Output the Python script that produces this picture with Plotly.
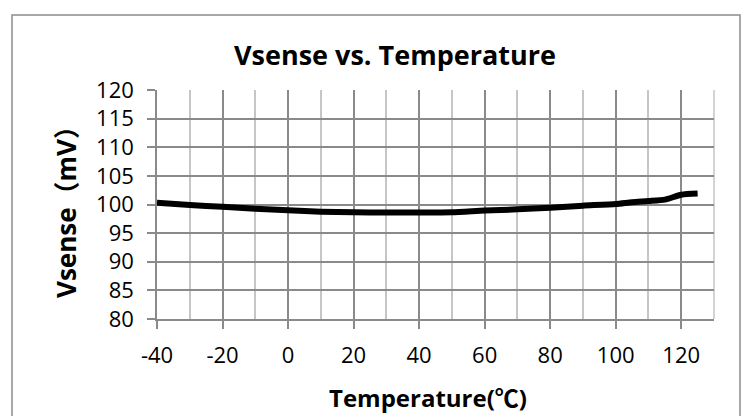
import plotly.graph_objects as go

temperature = [-40, -30, -20, -10, 0, 10, 20, 30, 40, 50, 60, 70, 80, 90, 100, 105, 110, 115, 120, 125]
vsense = [100.3, 99.9, 99.6, 99.25, 99.0, 98.75, 98.65, 98.6, 98.6, 98.65, 98.95, 99.15, 99.45, 99.8, 100.1, 100.4, 100.6, 100.85, 101.7, 101.9]

x_tick_vals = [-40, -20, 0, 20, 40, 60, 80, 100, 120]
x_tick_text = ["-40", "-20", "0", "20", "40", "60", "80", "100", "120"]
y_tick_vals = [80, 85, 90, 95, 100, 105, 110, 115, 120]
y_tick_text = ["80", "85", "90", "95", "100", "105", "110", "115", "120"]

title_text = "Vsense vs. Temperature"
x_title = "Temperature(℃)"
y_title = "Vsense（mV）"

FONT = "Open Sans, Noto Sans CJK SC, sans-serif"
OFF = 8  # default page body margin
W, H = 753, 416
# plot area in page pixels
PL, PR, PT, PB = 157, 714, 90, 319
L = PL - OFF
T = PT - OFF
R = W - (PR - OFF)
B = H - (PB - OFF)
pw, ph = PR - PL, PB - PT

def px(x):
    return (x - PL) / pw

def py(y):
    return (PB - y) / ph

fig = go.Figure()
fig.add_trace(go.Scatter(
    x=temperature, y=vsense, mode="lines",
    line=dict(color="black", width=6, shape="spline", smoothing=0.6),
    showlegend=False, hoverinfo="skip",
))

fig.update_layout(
    width=W, height=H,
    margin=dict(l=L, r=R, t=T, b=B, pad=0),
    paper_bgcolor="white", plot_bgcolor="white",
    font=dict(family=FONT, size=22, color="black"),
    xaxis=dict(
        range=[-40, 130], tickmode="array", tickvals=x_tick_vals, ticktext=x_tick_text,
        showgrid=True, gridcolor="#8a8a8a", gridwidth=1.5,
        minor=dict(dtick=10, tick0=-40, showgrid=True, gridcolor="#c6c6c6", gridwidth=1.5, ticks=""),
        ticks="outside", ticklen=8, tickcolor="#8a8a8a", tickwidth=1.5,
        ticklabelstandoff=8,
        showline=True, linecolor="#8a8a8a", linewidth=1.5,
        zeroline=False,
        tickfont=dict(family=FONT, size=22, color="black"),
    ),
    yaxis=dict(
        range=[80, 120], tickmode="array", tickvals=y_tick_vals, ticktext=y_tick_text,
        showgrid=True, gridcolor="#8a8a8a", gridwidth=1.5,
        ticks="outside", ticklen=8, tickcolor="#8a8a8a", tickwidth=1.5,
        ticklabelstandoff=9,
        showline=True, linecolor="#8a8a8a", linewidth=1.5,
        zeroline=False,
        tickfont=dict(family=FONT, size=22, color="black"),
    ),
    shapes=[
        dict(type="line", xref="paper", yref="paper", x0=1, x1=1, y0=0, y1=1,
             line=dict(color="#c6c6c6", width=1.5), layer="below"),
        dict(type="rect", xref="paper", yref="paper",
             x0=px(12), x1=px(740), y0=py(15), y1=py(440),
             line=dict(color="#8c8c8c", width=1.5), fillcolor="rgba(0,0,0,0)"),
    ],
    annotations=[
        dict(text="<b>" + title_text + "</b>", xref="paper", yref="paper",
             x=px(395), y=py(55), xanchor="center", yanchor="middle",
             showarrow=False, font=dict(family=FONT, size=27, color="black")),
        dict(text="<b>" + x_title + "</b>", xref="paper", yref="paper",
             x=px(428), y=py(397), xanchor="center", yanchor="middle",
             showarrow=False, font=dict(family=FONT, size=24, color="black")),
        dict(text="<b>" + y_title + "</b>", xref="paper", yref="paper",
             x=px(66), y=py(206), xanchor="center", yanchor="middle", textangle=-90,
             showarrow=False, font=dict(family=FONT, size=26, color="black")),
    ],
)

fig.write_html("out.html")
